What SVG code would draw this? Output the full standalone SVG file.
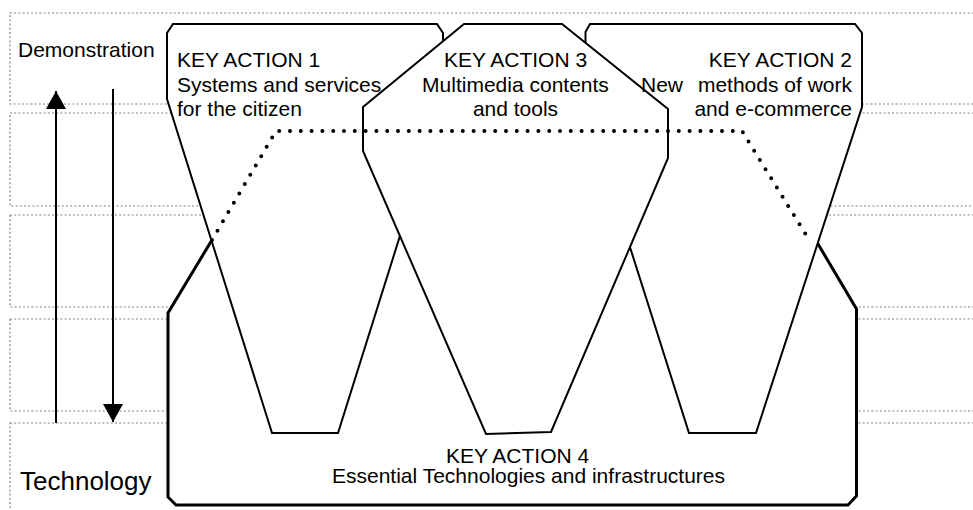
<svg xmlns="http://www.w3.org/2000/svg" width="973" height="510" viewBox="0 0 973 510">
<defs>
<style>
.band{fill:none;stroke:#808080;stroke-width:1.2;stroke-dasharray:2 2.2}
.ka{fill:#fff;stroke:#000;stroke-width:2;stroke-linejoin:miter}
.ka4{fill:#fff;stroke:#000;stroke-width:3;stroke-linejoin:miter}
.lbl{font-family:"Liberation Sans",Arial,sans-serif;font-size:21px;fill:#000}
.big{font-family:"Liberation Sans",Arial,sans-serif;font-size:26px;fill:#000}
.dots{fill:none;stroke:#000;stroke-width:4;stroke-linecap:round;stroke-dasharray:0 10.8}
.arr{stroke:#000;stroke-width:2;fill:none}
</style>
<marker id="head" viewBox="0 0 18 20" refX="18" refY="10" markerWidth="18" markerHeight="20" markerUnits="userSpaceOnUse" orient="auto">
<path d="M0,0 L18,10 L0,20 Z" fill="#000"/>
</marker>
</defs>
<rect width="973" height="510" fill="#fff"/>
<g id="bands">
<rect class="band" x="10" y="13" width="980" height="91"/>
<rect class="band" x="10" y="113" width="980" height="93"/>
<rect class="band" x="10" y="215" width="980" height="92"/>
<rect class="band" x="10" y="319" width="980" height="92"/>
<rect class="band" x="10" y="423" width="980" height="100"/>
</g>
<g id="ka4">
<polygon class="ka4" points="176,505 168,497 168,313 236,200 792,200 856.5,309 856.5,496 848,505"/>
</g>
<g id="ka1">
<polygon class="ka" points="173,24 437,24 443,33 443,99 338,433 272,433 167,99 167,33"/>
</g>
<g id="ka2">
<polygon class="ka" points="590,24 855,24 862,33 862,107 756,433 689,433 585.5,107 585.5,32"/>
</g>
<g id="ka3">
<polygon class="ka" points="464,24 562,24 668,109 668,158 551,432 486,434 363,151 363,107"/>
</g>
<g id="boundary">
<polyline class="dots" points="212,240 276,131 742,131 808,238"/>
</g>
<g id="connectors">
<line class="arr" x1="56" y1="423" x2="56" y2="91" marker-end="url(#head)"/>
<line class="arr" x1="113" y1="89" x2="113" y2="422" marker-end="url(#head)"/>
</g>
<g id="labels">
<text class="lbl" x="18" y="57">Demonstration</text>
<text class="big" x="20" y="490">Technology</text>
<g id="ka1-label">
<text class="lbl" x="177" y="67">KEY ACTION 1</text>
<text class="lbl" x="177" y="92">Systems and services</text>
<text class="lbl" x="177" y="116">for the citizen</text>
</g>
<g id="ka3-label" text-anchor="middle">
<text class="lbl" x="515.5" y="67">KEY ACTION 3</text>
<text class="lbl" x="515.5" y="92">Multimedia contents</text>
<text class="lbl" x="515.5" y="116">and tools</text>
</g>
<g id="ka2-label">
<text class="lbl" x="852" y="67" text-anchor="end">KEY ACTION 2</text>
<text class="lbl" y="92"><tspan x="641">New</tspan><tspan x="852" text-anchor="end">methods of work</tspan></text>
<text class="lbl" x="852" y="116" text-anchor="end">and e-commerce</text>
</g>
<g id="ka4-label">
<text class="lbl" x="446" y="463">KEY ACTION 4</text>
<text class="lbl" x="332" y="483">Essential Technologies and infrastructures</text>
</g>
</g>
</svg>
